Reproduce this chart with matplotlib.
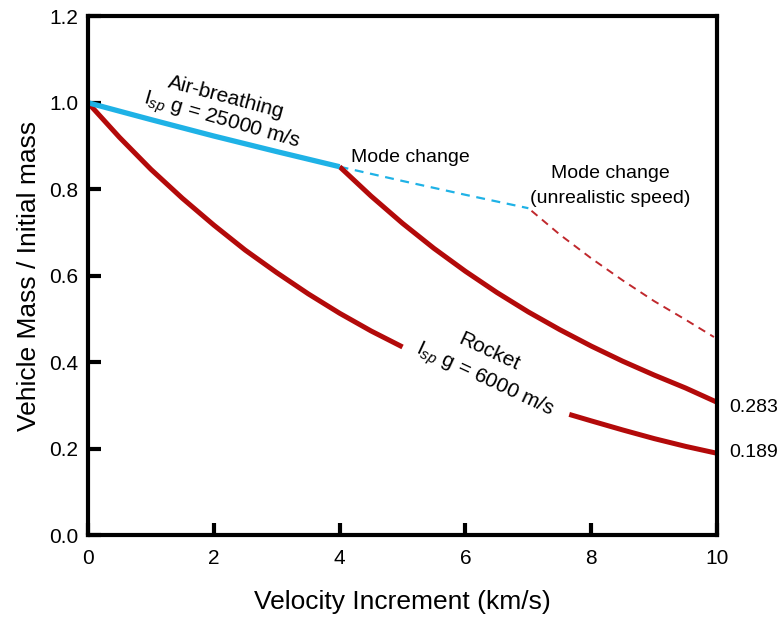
import numpy as np
import matplotlib.pyplot as plt

plt.rcParams['font.family'] = ['Liberation Sans', 'DejaVu Sans']
plt.rcParams['mathtext.fontset'] = 'custom'
plt.rcParams['mathtext.rm'] = 'Liberation Sans'
plt.rcParams['mathtext.it'] = 'Liberation Sans:italic'

# values (km/s, mass fraction)
air_v = [0, 1, 2, 3, 4]
air_m = [1.0, 0.961, 0.923, 0.887, 0.852]

air_dash_v = [4, 5, 6, 7]
air_dash_m = [0.852, 0.819, 0.787, 0.756]

rocket_a_v = [0, 0.5, 1, 1.5, 2, 2.5, 3, 3.5, 4, 4.5, 5.0]
rocket_a_m = [1.0, 0.920, 0.846, 0.779, 0.717, 0.659, 0.607, 0.558, 0.513, 0.472, 0.435]
rocket_b_v = [7.65, 8, 8.5, 9, 9.5, 10]
rocket_b_m = [0.279, 0.264, 0.243, 0.223, 0.205, 0.189]

mode_v = [4, 4.5, 5, 5.5, 6, 6.5, 7, 7.5, 8, 8.5, 9, 9.5, 10]
mode_m = [0.852, 0.784, 0.721, 0.663, 0.610, 0.561, 0.516, 0.475, 0.437, 0.402, 0.370, 0.340, 0.307]

late_v = [7.05, 7.5, 8, 8.5, 9, 9.5, 9.95]
late_m = [0.750, 0.695, 0.640, 0.589, 0.541, 0.498, 0.458]

end_labels = ['0.283', '0.189']
end_y = [0.295, 0.19]

red = '#b30a0a'
blue = '#1fb2e6'

fig = plt.figure(figsize=(7.82, 6.19), dpi=100)
ax = fig.add_axes([0.1125, 0.1357, 0.8045, 0.838])

ax.plot(air_dash_v, air_dash_m, color=blue, lw=1.6, dashes=(4, 3))
ax.plot(late_v, late_m, color='#c0282d', lw=1.4, dashes=(4, 3))
ax.plot(rocket_a_v, rocket_a_m, color=red, lw=3.6, solid_capstyle='butt')
ax.plot(rocket_b_v, rocket_b_m, color=red, lw=3.6, solid_capstyle='butt')
ax.plot(mode_v, mode_m, color=red, lw=3.6, solid_capstyle='butt')
ax.plot(air_v, air_m, color=blue, lw=3.8, solid_capstyle='butt')

ax.set_xlim(0, 10)
ax.set_ylim(0, 1.2)
ax.set_xticks([0, 2, 4, 6, 8, 10])
ax.set_yticks([0.0, 0.2, 0.4, 0.6, 0.8, 1.0, 1.2])
ax.set_yticklabels(['0.0', '0.2', '0.4', '0.6', '0.8', '1.0', '1.2'])
ax.tick_params(direction='in', length=9, width=3, labelsize=15, pad=7)
ax.tick_params(axis='x', pad=10)
for s in ax.spines.values():
    s.set_linewidth(3)

ax.set_xlabel('Velocity Increment (km/s)', fontsize=19, labelpad=16)
ax.set_ylabel('Vehicle Mass / Initial mass', fontsize=19, labelpad=6)

ax.text(2.2, 1.012, 'Air-breathing', fontsize=15, rotation=-15, ha='center', va='center')
ax.text(2.12, 0.958, r'I$_{sp}$ g = 25000 m/s', fontsize=15, rotation=-16, ha='center', va='center')
ax.text(4.18, 0.873, 'Mode change', fontsize=14, ha='left', va='center')
ax.text(8.3, 0.836, 'Mode change', fontsize=14, ha='center', va='center')
ax.text(8.3, 0.778, '(unrealistic speed)', fontsize=14, ha='center', va='center')
ax.text(6.38, 0.423, 'Rocket', fontsize=15, rotation=-25, ha='center', va='center')
ax.text(6.3, 0.358, r'I$_{sp}$ g = 6000 m/s', fontsize=15, rotation=-25, ha='center', va='center')

for lab, y in zip(end_labels, end_y):
    ax.text(10.2, y, lab, fontsize=14, ha='left', va='center', clip_on=False)

fig.savefig('out.png', dpi=100)
